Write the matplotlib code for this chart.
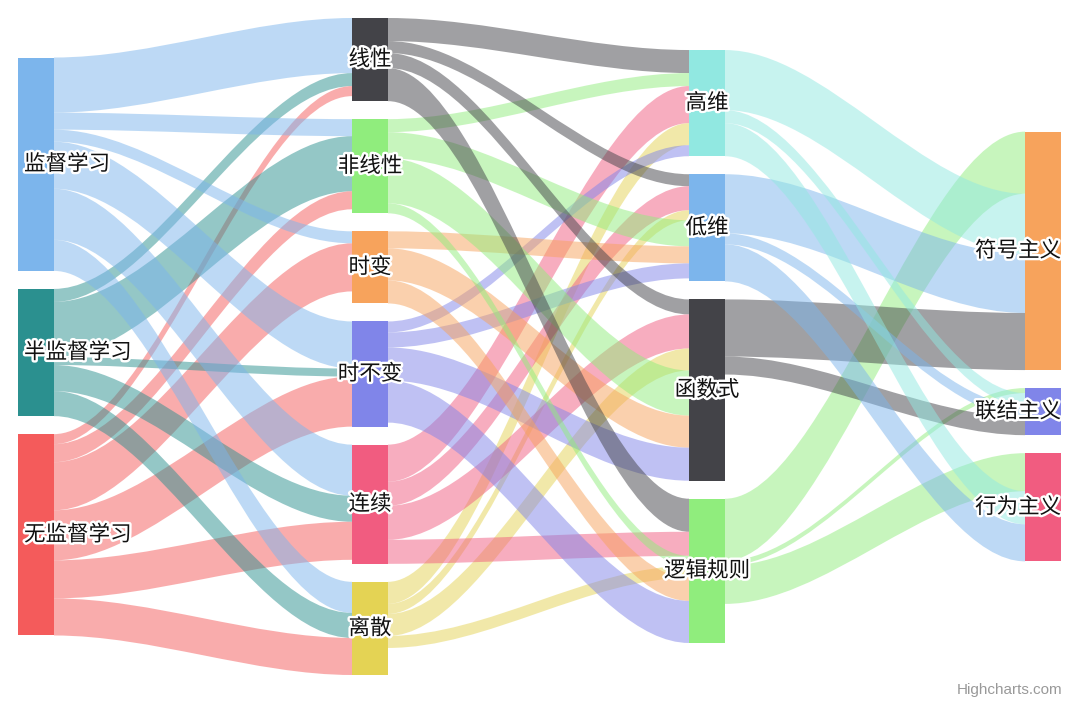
import matplotlib
matplotlib.use('Agg')
import matplotlib.pyplot as plt
from matplotlib.path import Path
from matplotlib.patches import PathPatch, Rectangle
import matplotlib.patheffects as pe

plt.rcParams['font.family'] = ['Noto Sans CJK SC', 'DejaVu Sans']

# ---------------- data ----------------
col_learning = ['监督学习', '半监督学习', '无监督学习']
col_system = ['线性', '非线性', '时变', '时不变', '连续', '离散']
col_form = ['高维', '低维', '函数式', '逻辑规则']
col_school = ['符号主义', '联结主义', '行为主义']

node_colors = {
    '监督学习': '#7cb5ec', '线性': '#434348', '非线性': '#90ed7d', '时变': '#f7a35c',
    '时不变': '#8085e9', '连续': '#f15c80', '离散': '#e4d354', '半监督学习': '#2b908f',
    '无监督学习': '#f45b5b', '高维': '#91e8e1', '低维': '#7cb5ec', '函数式': '#434348',
    '逻辑规则': '#90ed7d', '符号主义': '#f7a35c', '联结主义': '#8085e9', '行为主义': '#f15c80',
}

link_from = [
    '监督学习', '半监督学习', '无监督学习',
    '监督学习', '半监督学习', '无监督学习',
    '监督学习', '无监督学习',
    '监督学习', '半监督学习', '无监督学习',
    '监督学习', '半监督学习', '无监督学习',
    '监督学习', '半监督学习', '无监督学习',
    '线性', '非线性', '连续', '离散', '时不变',
    '线性', '连续', '离散', '非线性', '时变', '时不变',
    '线性', '连续', '离散', '非线性', '时变', '时不变',
    '线性', '连续', '非线性', '离散', '时变', '时不变',
    '逻辑规则', '高维', '低维', '函数式',
    '逻辑规则', '高维', '低维', '函数式',
    '逻辑规则', '高维', '低维',
]
link_to = [
    '线性', '线性', '线性',
    '非线性', '非线性', '非线性',
    '时变', '时变',
    '时不变', '时不变', '时不变',
    '连续', '连续', '连续',
    '离散', '离散', '离散',
    '高维', '高维', '高维', '高维', '高维',
    '低维', '低维', '低维', '低维', '低维', '低维',
    '函数式', '函数式', '函数式', '函数式', '函数式', '函数式',
    '逻辑规则', '逻辑规则', '逻辑规则', '逻辑规则', '逻辑规则', '逻辑规则',
    '符号主义', '符号主义', '符号主义', '符号主义',
    '联结主义', '联结主义', '联结主义', '联结主义',
    '行为主义', '行为主义', '行为主义',
]
link_value = [
    55, 13, 10,
    17, 55, 18,
    12, 48,
    47, 8, 50,
    51, 26, 38,
    31, 25, 37,
    23, 13, 37, 22, 11,
    12, 24, 10, 26, 17, 15,
    15, 34, 22, 45, 32, 33,
    33, 24, 10, 12, 23, 42,
    62, 60, 59, 57,
    5, 13, 11, 18,
    38, 33, 37,
]

# ---------------- layout ----------------
W, H = 1080, 704
fig = plt.figure(figsize=(W / 100, H / 100), dpi=100)
ax = fig.add_axes([0, 0, 1, 1])
ax.set_xlim(0, W)
ax.set_ylim(H, 0)
ax.axis('off')

columns = [col_learning, col_system, col_form, col_school]
col_x = [18, 352, 689, 1025]
node_w = 36
pad = 18
plot_top, plot_bottom = 18, 675
curve_factor = 0.33

in_sum = {n: 0 for c in columns for n in c}
out_sum = {n: 0 for c in columns for n in c}
for s, t, v in zip(link_from, link_to, link_value):
    out_sum[s] += v
    in_sum[t] += v
node_val = {n: max(in_sum[n], out_sum[n]) for n in in_sum}

factor = min((plot_bottom - plot_top - pad * (len(c) - 1)) / sum(node_val[n] for n in c)
             for c in columns)
center = (plot_top + plot_bottom) / 2
node_x, node_y, node_h = {}, {}, {}
for ci, c in enumerate(columns):
    total = sum(node_val[n] for n in c) * factor + pad * (len(c) - 1)
    y = center - total / 2
    for n in c:
        node_x[n] = col_x[ci]
        node_y[n] = y
        node_h[n] = node_val[n] * factor
        y += node_h[n] + pad

# ---------------- links ----------------
out_off = {n: 0.0 for n in node_val}
in_off = {n: 0.0 for n in node_val}
for s, t, v in zip(link_from, link_to, link_value):
    w = v * factor
    fx = node_x[s] + node_w
    tx = node_x[t]
    fy = node_y[s] + out_off[s]
    ty = node_y[t] + in_off[t]
    out_off[s] += w
    in_off[t] += w
    cv = (tx - fx) * curve_factor
    verts = [
        (fx, fy),
        (fx + cv, fy), (tx - cv, ty), (tx, ty),
        (tx, ty + w),
        (tx - cv, ty + w), (fx + cv, fy + w), (fx, fy + w),
        (fx, fy),
    ]
    codes = [Path.MOVETO, Path.CURVE4, Path.CURVE4, Path.CURVE4, Path.LINETO,
             Path.CURVE4, Path.CURVE4, Path.CURVE4, Path.CLOSEPOLY]
    ax.add_patch(PathPatch(Path(verts, codes), facecolor=node_colors[s], alpha=0.5,
                           edgecolor='none', zorder=1))

# ---------------- nodes ----------------
for n in node_val:
    ax.add_patch(Rectangle((node_x[n], node_y[n]), node_w, node_h[n],
                           facecolor=node_colors[n], edgecolor='none', zorder=2))

# ---------------- labels ----------------
fig.canvas.draw()
renderer = fig.canvas.get_renderer()
left_lim, right_lim = 24, 1061
for n in node_val:
    cx = node_x[n] + node_w / 2
    cy = node_y[n] + node_h[n] / 2
    t = ax.text(cx, cy, n, ha='center', va='center', fontsize=15.5, color='#111111',
                zorder=3, path_effects=[pe.withStroke(linewidth=3.5, foreground='white')])
    bb = t.get_window_extent(renderer)
    half = bb.width / 2
    if cx - half < left_lim:
        t.set_x(left_lim + half)
    elif cx + half > right_lim:
        t.set_x(right_lim - half)

ax.text(1062, 690, 'Highcharts.com', ha='right', va='center', fontsize=11,
        color='#999999', family=['Liberation Sans', 'DejaVu Sans'])

fig.savefig('out.png', dpi=100)
